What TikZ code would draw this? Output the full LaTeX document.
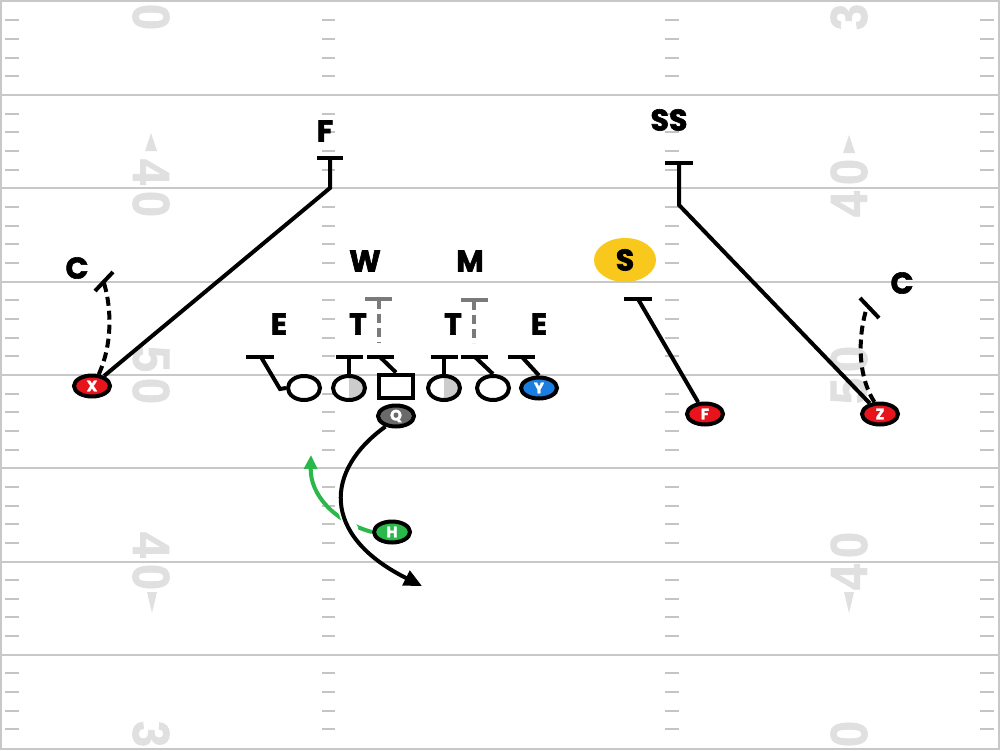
\documentclass[tikz,border=0pt]{standalone}
\usepackage{fontspec}
\newfontfamily\pop{Poppins}[BoldFeatures={FakeBold=2}]
\newfontfamily\numf{Liberation Sans}[BoldFeatures={FakeBold=1.5}]
\usetikzlibrary{arrows.meta,shapes.geometric}
\definecolor{fieldline}{HTML}{C8C8C8}
\definecolor{hashc}{HTML}{C4C4C4}
\definecolor{numc}{HTML}{E0E0E0}
\definecolor{xred}{HTML}{E8141C}
\definecolor{yblue}{HTML}{1A7DE0}
\definecolor{hgreen}{HTML}{2BB84A}
\definecolor{sgold}{HTML}{F9C81C}
\definecolor{qgrey}{HTML}{6A6A6A}
\definecolor{halfgrey}{HTML}{CCCCCC}
\definecolor{lbgrey}{HTML}{7A7A7A}
\begin{document}
\begin{tikzpicture}[x=1pt,y=-1pt,
  yardline/.style={draw=fieldline, line width=2pt},
  hashmark/.style={draw=hashc, line width=2pt},
  num/.style={text=numc, font=\numf\bfseries\fontsize{52}{52}\selectfont, inner sep=0pt},
  lab/.style={font=\pop\bfseries\fontsize{30}{30}\selectfont, inner sep=0pt},
  skill/.style={ellipse, draw=black, line width=4pt, minimum width=36pt, minimum height=21pt, inner sep=0pt, text=white, font=\pop\bfseries\fontsize{15}{15}\selectfont},
  oline/.style={ellipse, draw=black, fill=white, line width=4pt, minimum width=32pt, minimum height=24pt, inner sep=0pt},
  cbox/.style={rectangle, draw=black, fill=white, line width=4pt, minimum width=34pt, minimum height=23pt, inner sep=0pt},
  half/.style={path picture={\fill[halfgrey] (path picture bounding box.north) rectangle (path picture bounding box.south east);}},
  rt/.style={draw=black, line width=4pt},
  rtdash/.style={draw=black, line width=4pt, dash pattern=on 9pt off 5pt},
  lbbar/.style={draw=lbgrey, line width=4pt},
  lbdash/.style={draw=lbgrey, line width=4pt, dash pattern=on 9pt off 5pt}
]
\useasboundingbox (0,0) rectangle (1000,750);
\fill[white] (0,0) rectangle (1000,750);
% yard lines
\foreach \n in {1,...,7} \draw[yardline] (0,{1.7+93.3*\n}) -- (1000,{1.7+93.3*\n});
\draw[yardline] (1,1) rectangle (999,749);
% hash marks
\foreach \n in {0,...,7}{
  \foreach \k in {1,...,4}{
    \pgfmathsetmacro\yy{1.7+93.3*\n+18.66*\k}
    \foreach \xa/\xb in {5/19,322/335,665/679,980/994}{
      \draw[hashmark] (\xa,\yy) -- (\xb,\yy);
    }
  }
}
% yard numbers left
\node[num, rotate=-90] (nl1) at (151,17) {\scalebox{0.9}[1]{0}};
\node[num, rotate=-90] (nl2) at (151,172) {\scalebox{0.9}[1]{4}};
\node[num, rotate=-90] (nl3) at (151,204) {\scalebox{0.9}[1]{0}};
\node[num, rotate=-90] (nl4) at (151,359) {\scalebox{0.9}[1]{5}};
\node[num, rotate=-90] (nl5) at (151,391) {\scalebox{0.9}[1]{0}};
\node[num, rotate=-90] (nl6) at (151,545) {\scalebox{0.9}[1]{4}};
\node[num, rotate=-90] (nl7) at (151,577) {\scalebox{0.9}[1]{0}};
\node[num, rotate=-90] (nl8) at (151,734) {\scalebox{0.9}[1]{3}};
% yard numbers right
\node[num, rotate=90] (nr1) at (849,17) {\scalebox{0.9}[1]{3}};
\node[num, rotate=90] (nr2) at (849,172) {\scalebox{0.9}[1]{0}};
\node[num, rotate=90] (nr3) at (849,204) {\scalebox{0.9}[1]{4}};
\node[num, rotate=90] (nr4) at (849,359) {\scalebox{0.9}[1]{0}};
\node[num, rotate=90] (nr5) at (849,391) {\scalebox{0.9}[1]{5}};
\node[num, rotate=90] (nr6) at (849,545) {\scalebox{0.9}[1]{0}};
\node[num, rotate=90] (nr7) at (849,577) {\scalebox{0.9}[1]{4}};
\node[num, rotate=90] (nr8) at (849,734) {\scalebox{0.9}[1]{0}};
% direction arrows
\fill[numc] (151,133) -- (157,151) -- (145,151) -- cycle;
\fill[numc] (849,135) -- (855,153) -- (843,153) -- cycle;
\fill[numc] (152,613) -- (157,592) -- (147,592) -- cycle;
\fill[numc] (849,613) -- (854,592) -- (844,592) -- cycle;

% defense labels
\node[lab] (lF) at (325,131) {F};
\node[lab] (lSS) at (669,120) {SS};
\node[lab] (lC1) at (77,268) {C};
\node[lab] (lC2) at (902,283) {C};
\node[lab] (lW) at (365,261) {W};
\node[lab] (lM) at (470,261) {M};
\node[lab] (lE1) at (279,324) {E};
\node[lab] (lT1) at (358,324) {T};
\node[lab] (lT2) at (453,324) {T};
\node[lab] (lE2) at (539,324) {E};
\node[ellipse, fill=sgold, minimum width=62pt, minimum height=44pt, inner sep=0pt, font=\pop\bfseries\fontsize{30}{30}\selectfont] (S) at (625,260) {S};

% offensive line
\node[oline] (LT) at (304,388) {};
\node[oline, half] (LG) at (349,388) {};
\node[cbox] (Cn) at (396,386) {};
\node[oline, half] (RG) at (444,388) {};
\node[oline] (RT) at (493,388) {};

% skill players
\node[skill, fill=xred] (X) at (92,386) {X};
\node[skill, fill=xred] (Z) at (880,414) {Z};
\node[skill, fill=xred] (Fr) at (705,414) {F};
\node[skill, fill=yblue] (Y) at (539,388) {Y};
\node[skill, fill=qgrey] (Q) at (396,416) {Q};
\node[skill, fill=hgreen] (H) at (392,532) {H};

% route end coordinates
\coordinate (fkink) at (330,188);
\coordinate (ftop) at (330,158);
\coordinate (sskink) at (679,205);
\coordinate (sstop) at (679,163);
\coordinate (stop) at (638,299);
\coordinate (c1top) at (104,283);
\coordinate (c2top) at (867,307);
\coordinate (qend) at (422,586);
\coordinate (hend) at (311,455);

% X post route / F block
\draw[rt] (X) -- (fkink) -- (ftop);
\draw[rt] (317,158) -- (343,158);
% Z route / SS block
\draw[rt] (Z) -- (sskink) -- (sstop);
\draw[rt] (665,163) -- (693,163);
% F route / S block
\draw[rt] (Fr) -- (stop);
\draw[rt] (624,299) -- (652,299);
% dashed C blocks
\draw[rtdash] (X.60) .. controls (112,345) and (112,310) .. (c1top);
\draw[rt] (95,291) -- (113,272);
\draw[rtdash] (Z.115) .. controls (857,375) and (858,335) .. (c2top);
\draw[rt] (860,298) -- (879,318);

% line blocks
\draw[rt] (LT.west) -- (280,389) -- (261,357);
\draw[rt] (246,357) -- (274,357);
\draw[rt] (LG.north) -- (349,357);
\draw[rt] (336,357) -- (363,357);
\draw[rt] (Cn.north) -- (380,357);
\draw[rt] (367,357) -- (394,357);
\draw[rt] (RG.north) -- (444,357);
\draw[rt] (431,357) -- (458,357);
\draw[rt] (RT.north) -- (475,357);
\draw[rt] (461,357) -- (488,357);
\draw[rt] (Y.north) -- (522,357);
\draw[rt] (508,357) -- (535,357);

% linebacker fills
\draw[lbbar] (365,299) -- (392,299);
\draw[lbdash] (379,300) -- (379,343);
\draw[lbbar] (461,300) -- (488,300);
\draw[lbdash] (474,301) -- (474,343);

% H route (green)
\draw[draw=hgreen, line width=4pt, -{Triangle[length=14pt,width=13pt]}] (H.west) .. controls (335,522) and (310,495) .. (hend);
% gap where Q path crosses
\begin{scope}
\clip (330,505) rectangle (358,536);
\draw[white, line width=12pt] (Q.225) .. controls (325,470) and (320,535) .. (qend);
\end{scope}
% Q route
\draw[rt, -{Triangle[length=18pt,width=16pt]}] (Q.225) .. controls (325,470) and (320,535) .. (qend);
\end{tikzpicture}
\end{document}
